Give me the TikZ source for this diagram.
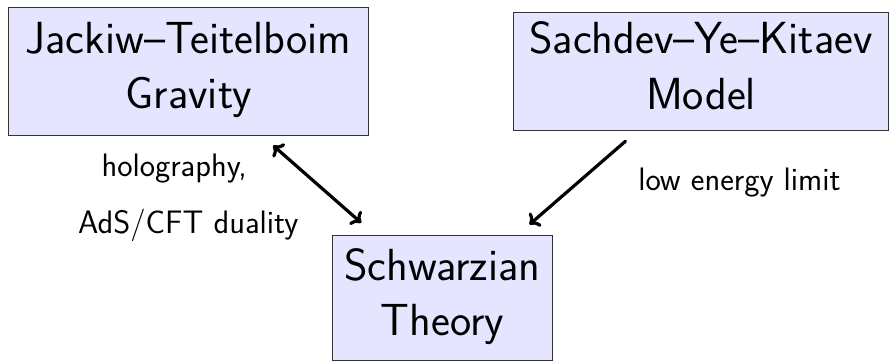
\documentclass[tikz,border=0pt]{standalone}
\usepackage{fontspec}
\usetikzlibrary{arrows.meta}
\newcommand\boxfnt{\sffamily\fontsize{45}{55}\selectfont}
\newcommand\lblfnt{\sffamily\fontsize{32.5}{38}\selectfont}
\tikzset{
  box/.style={draw=black!80, line width=1pt, fill=blue!10, align=center,
    inner xsep=0pt, inner ysep=0pt, font=\boxfnt, anchor=base},
  lbl/.style={font=\lblfnt, inner sep=0pt, anchor=base},
  conn/.style={line width=3.2pt, line cap=round,
    >={Computer Modern Rightarrow[length=9pt,width=18pt]}}
}
\begin{document}
\begin{tikzpicture}[x=1pt,y=-1pt]
\useasboundingbox (0,0) rectangle (889,361);
\node[box, minimum width=360.7pt, text height=101pt, text depth=26.7pt] (jt) at (188.6,108.3) {Jackiw–Teitelboim\\Gravity};
\node[box, minimum width=375.4pt, text height=96.7pt, text depth=21.7pt] (syk) at (701,109) {Sachdev–Ye–Kitaev\\Model};
\node[box, minimum width=220pt, text height=100pt, text depth=25pt] (sch) at (442.3,335) {Schwarzian\\Theory};
\node[lbl] (l1) at (174.2,176.7) {holography,};
\node[lbl] (l2) at (188.3,233.3) {AdS/CFT duality};
\node[lbl] (l3) at (739.5,190.7) {low energy limit};
\draw[conn,<->] ([shift={(-96.3,10)}]jt.south east) -- ([shift={(29.4,-11.7)}]sch.north west);
\draw[conn,->] ([shift={(112.7,10)}]syk.south west) -- ([shift={(-23.3,-10)}]sch.north east);
\end{tikzpicture}
\end{document}
